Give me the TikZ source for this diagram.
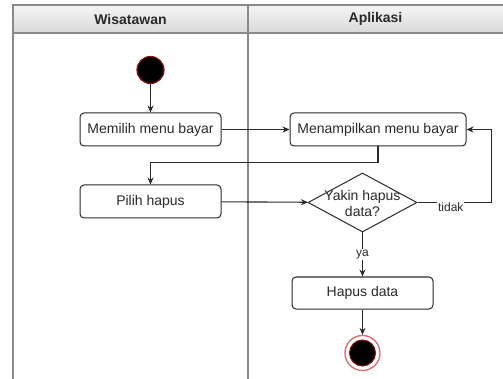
\documentclass[tikz,border=0pt]{standalone}
\usepackage{fontspec}
\setmainfont{Liberation Sans}
\usetikzlibrary{shapes.geometric,arrows.meta}
\definecolor{lanegray}{HTML}{8A8A8A}
\definecolor{inkdark}{HTML}{2A2A2A}
\definecolor{startred}{HTML}{8B1010}
\definecolor{endring}{HTML}{D86A6A}
\begin{document}
\begin{tikzpicture}[x=1pt,y=-1pt,
  every node/.style={font=\fontsize{14}{17}\selectfont, text=inkdark},
  act/.style={draw=inkdark, line width=1pt, rounded corners=4pt, fill=white,
    minimum height=33pt, inner sep=0pt},
  decision/.style={diamond, draw=inkdark, line width=1pt, fill=white,
    minimum width=109pt, minimum height=59pt, inner sep=0pt},
  flow/.style={draw=inkdark, line width=1.1pt, -{Stealth[length=7pt,width=6pt]}},
  lane/.style={draw=lanegray, line width=1.6pt},
  edgelabel/.style={font=\fontsize{12}{14}\selectfont, fill=white, inner sep=1pt},
  header/.style={font=\bfseries\fontsize{14}{17}\selectfont}]
  \useasboundingbox (0,0) rectangle (503,379);

  % swimlane pool
  \shade[top color=gray!8, bottom color=gray!30] (13,5) rectangle (503,33);
  \draw[lane] (503,5) -- (13,5) -- (13,379);
  \draw[lane] (13,33) -- (503,33);
  \draw[lane] (248,5) -- (248,379);
  \node[header] (laneA) at (130.5,19) {Wisatawan};
  \node[header] (laneB) at (375.5,19) {Aplikasi};

  % activities
  \node[circle, fill=black, draw=startred, line width=1.2pt, minimum size=27pt, inner sep=0pt] (start) at (150.5,70) {};
  \node[act, minimum width=141pt] (m1) at (150.5,129.5) {Memilih menu bayar};
  \node[act, minimum width=176pt] (m2) at (378,129.5) {Menampilkan menu bayar};
  \node[act, minimum width=141pt] (p) at (150.5,201.5) {Pilih hapus};
  \node[decision] (d) at (362.5,202.5) {};
  \node[align=center, inner sep=0pt] (dtext) at (362.5,203.5) {Yakin hapus\\[-1pt]data?};
  \node[act, minimum width=141pt, minimum height=32pt] (h) at (362.5,293) {Hapus data};
  \node[circle, draw=endring, line width=1.3pt, fill=white, minimum size=35pt, inner sep=0pt] (endO) at (362.5,353) {};
  \node[circle, fill=black, draw=startred, line width=1pt, minimum size=26pt, inner sep=0pt] (endI) at (endO) {};

  % control flow
  \draw[flow] (start) -- (m1);
  \draw[flow] (m1) -- (m2);
  \draw[flow] (m2.south) -- ++(0,16) -| (p.north);
  \draw[flow] (p) -- (d);
  \draw[flow] (d.east) -- node[edgelabel, pos=.45, below=-1pt] (tidak) {tidak} ++(74,0) |- (m2.east);
  \draw[flow] (d.south) -- node[edgelabel] (ya) {ya} (h.north);
  \draw[flow] (h) -- (endO);
\end{tikzpicture}
\end{document}
